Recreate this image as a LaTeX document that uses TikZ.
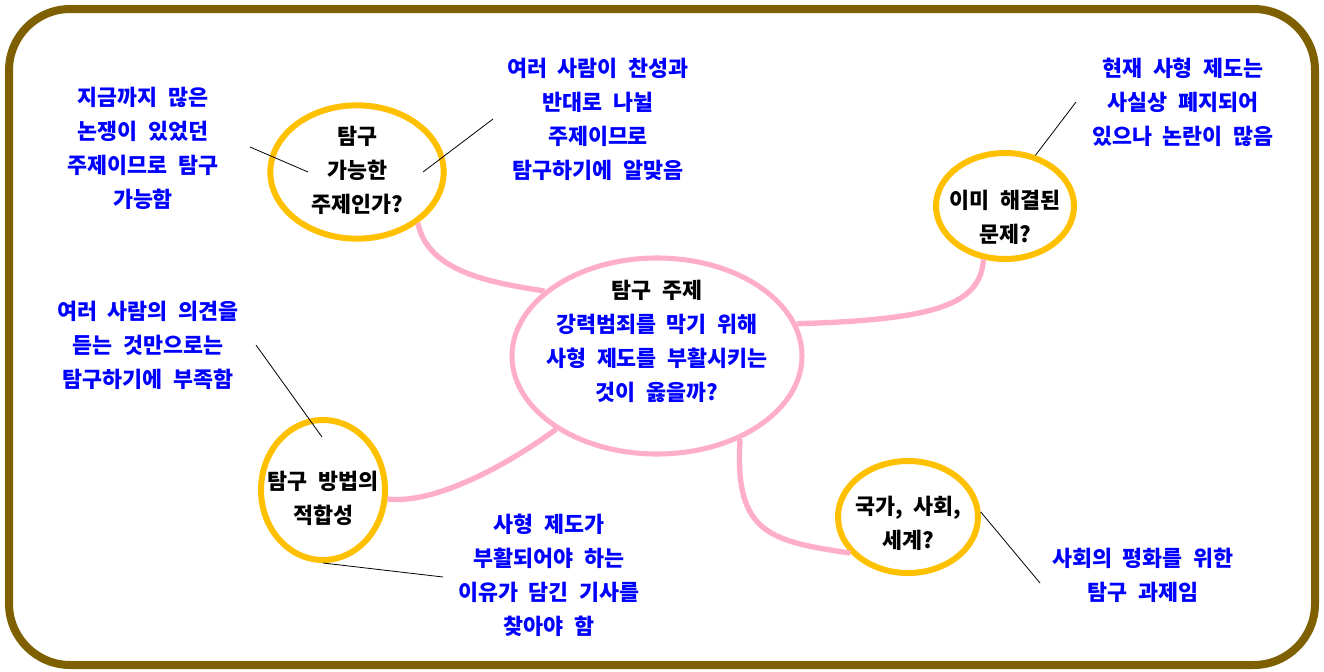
\documentclass[tikz,border=0pt]{standalone}
\usepackage{fontspec}
\setmainfont{Noto Sans CJK KR}[WordSpace=2.1]
\usetikzlibrary{shapes.geometric}

\definecolor{framegold}{RGB}{127,96,0}
\definecolor{ringyellow}{RGB}{255,192,0}
\definecolor{linkpink}{RGB}{255,174,201}
\definecolor{noteblue}{RGB}{0,0,255}

\tikzset{
  frame/.style={draw=framegold, line width=6pt, rounded corners=46pt},
  ring/.style={ellipse, draw=ringyellow, line width=4.5pt, inner sep=0pt},
  topic/.style={ellipse, draw=linkpink, line width=3.8pt, inner sep=0pt},
  link/.style={draw=linkpink, line width=4pt},
  leader/.style={draw=black, line width=0.6pt},
  ask/.style={align=center, font=\bfseries\fontsize{16.3}{25.5}\selectfont, text=black},
  note/.style={align=center, font=\bfseries\fontsize{16.3}{25.5}\selectfont, text=noteblue},
}

\begin{document}
\begin{tikzpicture}[x=0.75pt,y=0.75pt,yscale=-1,xscale=1]
\useasboundingbox (0,0) rectangle (1324,671);
\fill[white] (0,0) rectangle (1324,671);

%Shape: Frame
\draw[frame] (9,9) rectangle (1315,665);

%Shape: Ellipses
\node[topic, minimum width=217.5pt, minimum height=147pt] (main) at (657,356) {};
\node[ring, minimum width=130pt, minimum height=100pt] (q1) at (357,172) {};
\node[ring, minimum width=103.5pt, minimum height=79.5pt] (q2) at (1005,206) {};
\node[ring, minimum width=93pt, minimum height=105pt] (q3) at (323,490) {};
\node[ring, minimum width=105pt, minimum height=84pt] (q4) at (908,517) {};

% Text Node
\node[ask] (maintxt) at (657,341) {탐구 주제\\\textcolor{noteblue}{강력범죄를 막기 위해}\\\textcolor{noteblue}{사형 제도를 부활시키는}\\\textcolor{noteblue}{것이 옳을까?}};
\node[ask] (q1txt) at (357,170) {탐구\\가능한\\주제인가?};
\node[ask] (q2txt) at (1005,217) {이미 해결된\\문제?};
\node[ask] (q3txt) at (323,498) {탐구 방법의\\적합성};
\node[ask] (q4txt) at (908,523) {국가, 사회,\\세계?};

% Text Node
\node[note] (n1) at (143,148) {지금까지 많은\\논쟁이 있었던\\주제이므로 탐구\\가능함};
\node[note] (n2) at (598,119) {여러 사람이 찬성과\\반대로 나뉠\\주제이므로\\탐구하기에 알맞음};
\node[note] (n3) at (1183,102) {현재 사형 제도는\\사실상 폐지되어\\있으나 논란이 많음};
\node[note] (n4) at (148,345) {여러 사람의 의견을\\듣는 것만으로는\\탐구하기에 부족함};
\node[note] (n5) at (549,575) {사형 제도가\\부활되어야 하는\\이유가 담긴 기사를\\찾아야 함};
\node[note] (n6) at (1143,575) {사회의 평화를 위한\\탐구 과제임};

%Curves: pink links
\draw[link] (q1.-40) .. controls +(10,50) and +(-50,-8) .. (main.150);
\draw[link] (main.13) .. controls +(140,-4) and +(-3,45) .. (q2.-112);
\draw[link] (main.-144) .. controls +(-55,40) and +(45,5) .. (q3.-8);
\draw[link] (main.-45) .. controls +(-6,95) and +(-80,-12) .. (q4.-148);

%Straight Lines: leaders
\coordinate (l1) at (250,147);
\coordinate (l1in) at (308,172);
\coordinate (l2) at (493,119);
\coordinate (l2in) at (423,172);
\coordinate (l3) at (1076,102);
\coordinate (l4) at (256,345);
\coordinate (l4in) at (322,437);
\coordinate (l5) at (443,577);
\coordinate (l6) at (1040,583);
\draw[leader] (l1) -- (l1in);
\draw[leader] (l2in) -- (l2);
\draw[leader] (q2.59) -- (l3);
\draw[leader] (l4) -- (l4in);
\draw[leader] (q3.south) -- (l5);
\draw[leader] (q4.4) -- (l6);
\end{tikzpicture}
\end{document}
